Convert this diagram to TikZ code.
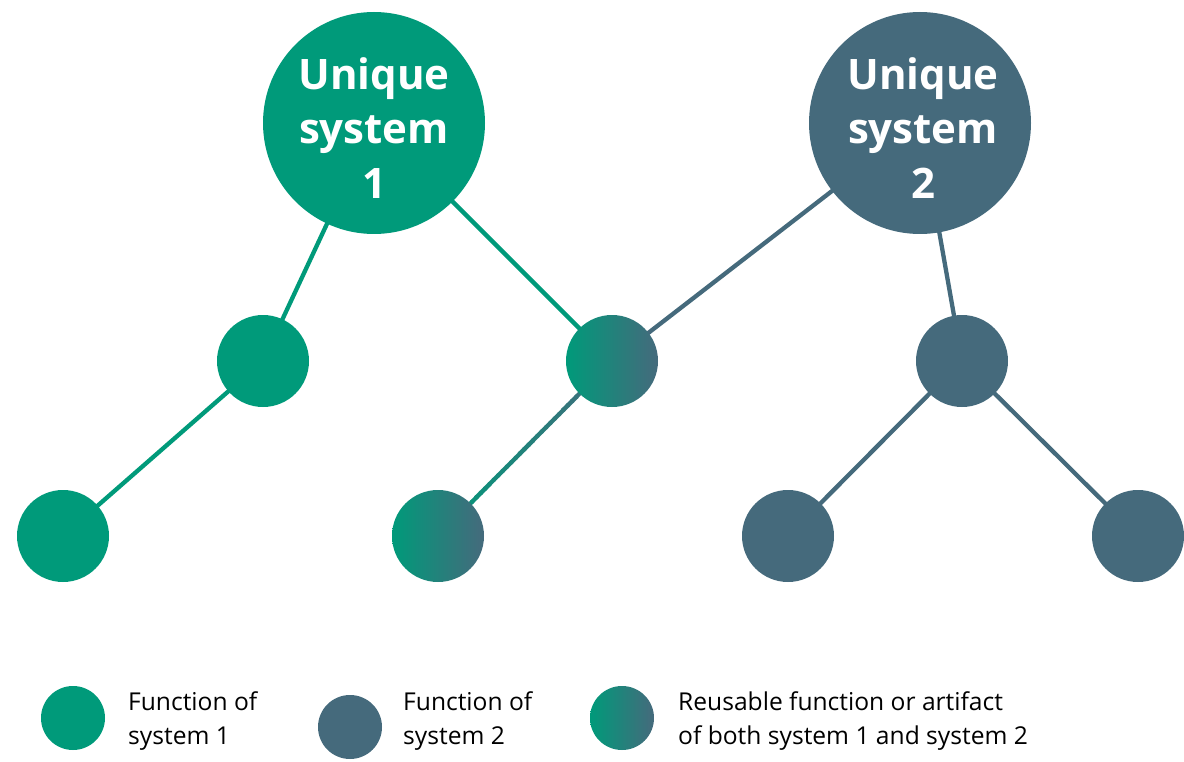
\documentclass[tikz,border=0pt]{standalone}
\usepackage{fontspec}
\setmainfont{Open Sans}
\usetikzlibrary{calc}
\definecolor{gr}{HTML}{009A7A}
\definecolor{sl}{HTML}{456A7C}
\pgfdeclarelayer{bg}
\pgfsetlayers{bg,main}
\tikzset{
  big/.style={circle,inner sep=0pt,minimum size=222pt},
  bigtext/.style={text=white,align=center,inner sep=0pt,yshift=-5pt,
    font=\bfseries\fontsize{42}{54.5}\selectfont},
  small/.style={circle,inner sep=0pt,minimum size=92pt},
  leg/.style={circle,inner sep=0pt,minimum size=64pt},
  legtext/.style={anchor=west,align=left,inner sep=0pt,font=\fontsize{24.6}{34}\selectfont},
  g/.style={fill=gr},
  s/.style={fill=sl},
  mix/.style={left color=gr,right color=sl},
  edge/.style={line width=4.3pt}
}
\begin{document}
\begin{tikzpicture}[x=1pt,y=-1pt]
\useasboundingbox (0,0) rectangle (1184,762);
\node[big,g,label={[bigtext]center:Unique\\system\\1}] (U1) at (374,123) {};
\node[big,s,label={[bigtext,xshift=3pt]center:Unique\\system\\2}] (U2) at (920,123) {};
\node[small,g] (A) at (263,361) {};
\node[small,mix] (B) at (612,361) {};
\node[small,s] (C) at (962,361) {};
\node[small,g] (D1) at (63,536) {};
\node[small,mix] (D2) at (438,536) {};
\node[small,s] (D3) at (788,536) {};
\node[small,s] (D4) at (1138,536) {};
\begin{pgfonlayer}{bg}
\draw[edge,gr] (U1.center) -- (A.center);
\draw[edge,gr] (U1.center) -- (B.center);
\draw[edge,sl] (U2.center) -- (B.center);
\draw[edge,sl] (U2.center) -- (C.center);
\draw[edge,gr] (A.center) -- (D1.center);
\draw[edge,sl] (C.center) -- (D3.center);
\draw[edge,sl] (C.center) -- (D4.center);
\foreach \i in {0,...,39}{
  \pgfmathsetmacro{\ta}{\i/40}
  \pgfmathsetmacro{\tb}{(\i+1.3)/40}
  \pgfmathsetmacro{\p}{100*(\i+0.5)/40}
  \draw[edge,draw=gr!\p!sl] ($(B)!\ta!(D2)$) -- ($(B)!{min(\tb,1)}!(D2)$);
}
\end{pgfonlayer}
\node[leg,g] (L1) at (73,718) {};
\node[leg,s] (L2) at (350,727) {};
\node[leg,mix] (L3) at (622,718) {};
\node[legtext] (T1) at (128,721) {Function of\\system 1};
\node[legtext] (T2) at (403,721) {Function of\\system 2};
\node[legtext] (T3) at (678,721) {Reusable function or artifact\\of both system 1 and system 2};
\end{tikzpicture}
\end{document}
